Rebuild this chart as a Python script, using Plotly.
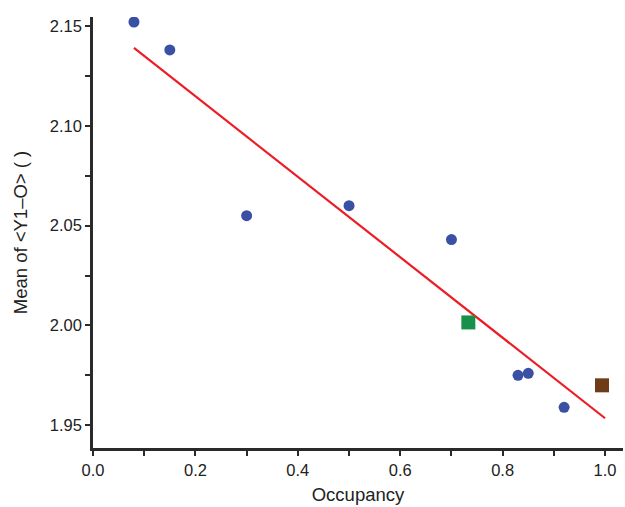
import plotly.graph_objects as go

# Data
occ_blue = [0.08, 0.15, 0.30, 0.50, 0.70, 0.83, 0.85, 0.92]
mean_blue = [2.152, 2.138, 2.055, 2.060, 2.043, 1.975, 1.976, 1.959]
occ_green = [0.733]
mean_green = [2.0015]
occ_brown = [0.994]
mean_brown = [1.970]
fit_x = [0.08, 1.0]
fit_y = [2.139, 1.9535]

x_ticks = [0.0, 0.2, 0.4, 0.6, 0.8, 1.0]
x_ticklabels = ["0.0", "0.2", "0.4", "0.6", "0.8", "1.0"]
y_ticks = [1.95, 2.00, 2.05, 2.10, 2.15]
y_ticklabels = ["1.95", "2.00", "2.05", "2.10", "2.15"]

fig = go.Figure()
fig.add_trace(go.Scatter(x=fit_x, y=fit_y, mode="lines",
                         line=dict(color="#ec1c24", width=2.2), showlegend=False))
fig.add_trace(go.Scatter(x=occ_blue, y=mean_blue, mode="markers",
                         marker=dict(color="#3a50a4", size=11, symbol="circle"),
                         showlegend=False))
fig.add_trace(go.Scatter(x=occ_green, y=mean_green, mode="markers",
                         marker=dict(color="#17904a", size=14, symbol="square"),
                         showlegend=False))
fig.add_trace(go.Scatter(x=occ_brown, y=mean_brown, mode="markers",
                         marker=dict(color="#6e3d17", size=14, symbol="square"),
                         showlegend=False))

font_family = "Liberation Sans, Arial, sans-serif"
fig.update_layout(
    width=625, height=507,
    margin=dict(l=93, r=2, t=17, b=59),
    plot_bgcolor="white", paper_bgcolor="white",
    font=dict(family=font_family, color="#222222"),
)
fig.update_xaxes(
    range=[0, 1.035], showgrid=False, zeroline=False,
    showline=True, linecolor="#2a2a2a", linewidth=2.5,
    tickmode="array", tickvals=x_ticks, ticktext=x_ticklabels,
    ticks="outside", ticklen=5, tickwidth=2, tickcolor="#2a2a2a",
    tickfont=dict(size=16.5, family=font_family, color="#222222"),
    minor=dict(dtick=0.1, ticks="outside", ticklen=5, tickwidth=2, tickcolor="#2a2a2a"),
    title=dict(text="Occupancy", font=dict(size=18.5, family=font_family, color="#222222"),
               standoff=11),
)
fig.update_yaxes(
    range=[1.9386, 2.1545], showgrid=False, zeroline=False,
    showline=True, linecolor="#2a2a2a", linewidth=2.5,
    tickmode="array", tickvals=y_ticks, ticktext=y_ticklabels,
    ticks="outside", ticklen=5, tickwidth=2, tickcolor="#2a2a2a",
    tickfont=dict(size=16.5, family=font_family, color="#222222"),
    minor=dict(dtick=0.025, ticks="outside", ticklen=5, tickwidth=2, tickcolor="#2a2a2a"),
    title=dict(text="Mean of &lt;Y1–O&gt; ( )",
               font=dict(size=18.5, family=font_family, color="#222222"), standoff=18),
)

fig.write_html("out.html", config={"displayModeBar": False})

# remove default page margins so the figure sits at the window's top-left
with open("out.html", "r", encoding="utf-8") as f:
    html = f.read()
html = html.replace("<head>", "<head><style>html,body{margin:0;padding:0;overflow:hidden;}</style>", 1)
with open("out.html", "w", encoding="utf-8") as f:
    f.write(html)
